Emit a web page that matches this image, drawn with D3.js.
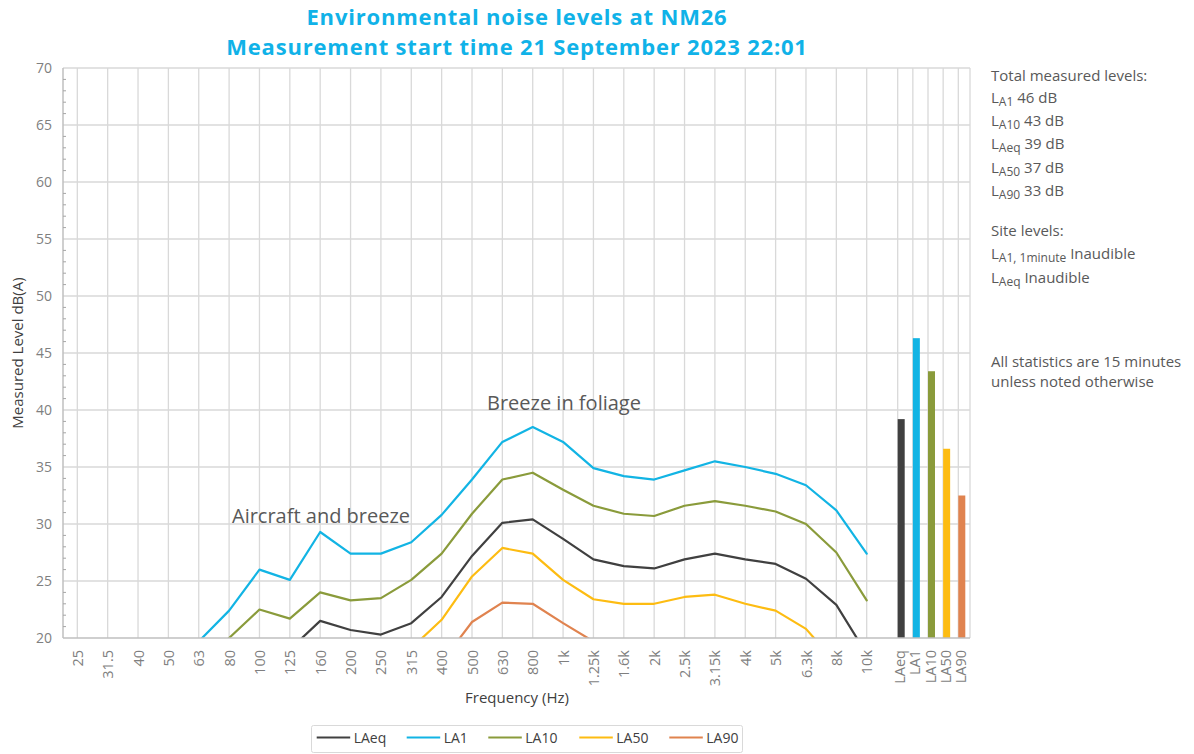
<!DOCTYPE html>
<html>
<head>
<meta charset="utf-8">
<script src="https://cdn.jsdelivr.net/npm/d3@7"></script>
<style>
  html, body { margin: 0; padding: 0; background: #fff; }
  svg { display: block; font-family: "Open Sans", "Noto Sans", sans-serif; }
</style>
</head>
<body>
<svg id="chart" width="1194" height="754"></svg>
<script>
// ---------- data ----------
const freqLabels = ["25","31.5","40","50","63","80","100","125","160","200","250","315","400","500","630","800","1k","1.25k","1.6k","2k","2.5k","3.15k","4k","5k","6.3k","8k","10k"];
const LAeq = [null,null,null,null,null,null,null,19.0,21.5,20.7,20.3,21.3,23.6,27.2,30.1,30.4,28.7,26.9,26.3,26.1,26.9,27.4,26.9,26.5,25.2,22.9,18.6];
const LA1  = [null,null,null,null,19.7,22.4,26.0,25.1,29.3,27.4,27.4,28.4,30.8,33.9,37.2,38.5,37.2,34.9,34.2,33.9,34.7,35.5,35.0,34.4,33.4,31.2,27.4];
const LA10 = [null,null,null,null,17.5,20.0,22.5,21.7,24.0,23.3,23.5,25.1,27.4,30.9,33.9,34.5,33.0,31.6,30.9,30.7,31.6,32.0,31.6,31.1,30.0,27.5,23.3];
const LA50 = [null,null,null,null,null,null,null,null,null,null,null,19.1,21.6,25.4,27.9,27.4,25.1,23.4,23.0,23.0,23.6,23.8,23.0,22.4,20.8,17.8,null];
const LA90 = [null,null,null,null,null,null,null,null,null,null,null,null,17.9,21.4,23.1,23.0,21.3,19.7,null,null,null,null,null,null,null,null,null];
const seriesNames = ["LAeq","LA1","LA10","LA50","LA90"];
const seriesColors = ["#404040","#12B4E4","#8A9B3B","#FDBC12","#E0834F"];
const barLabels = ["LAeq","LA1","LA10","LA50","LA90"];
const barValues = [39.2,46.3,43.4,36.6,32.5];
const yTicks = [20,25,30,35,40,45,50,55,60,65,70];
const titleLines = ["Environmental noise levels at NM26","Measurement start time 21 September 2023 22:01"];

// ---------- layout ----------
const svg = d3.select("#chart");
const L = 63, R = 970, T = 68, B = 638;
const x = d3.scalePoint().domain(freqLabels).range([77.3, 866.7]);
const xb = d3.scalePoint().domain(barLabels).range([897.7, 958.3]);
const y = d3.scaleLinear().domain([20, 70]).range([B, T]);
const gridColor = "#d9d9d9";
const axisColor = "#bfbfbf";
const tickTextColor = "#7f7f7f";
const textColor = "#404040";

// title
svg.append("g").selectAll("text").data(titleLines).join("text")
  .attr("x", 517).attr("y", (d, i) => 24.5 + i * 30.5)
  .attr("text-anchor", "middle")
  .attr("font-size", 22).attr("font-weight", "bold")
  .attr("letter-spacing", 0.8)
  .attr("fill", "#10B2E8")
  .text(d => d);

// gridlines
const grid = svg.append("g");
grid.selectAll("line.h").data(yTicks.filter(v => v > 20)).join("line")
  .attr("x1", L).attr("x2", R).attr("y1", d => y(d)).attr("y2", d => y(d))
  .attr("stroke", gridColor).attr("stroke-width", 1.3);
grid.selectAll("line.v").data(freqLabels).join("line")
  .attr("x1", d => x(d)).attr("x2", d => x(d)).attr("y1", T).attr("y2", B)
  .attr("stroke", gridColor).attr("stroke-width", 1.3);
grid.selectAll("line.vb").data(barLabels).join("line")
  .attr("x1", d => xb(d)).attr("x2", d => xb(d)).attr("y1", T).attr("y2", B)
  .attr("stroke", gridColor).attr("stroke-width", 1.3);
grid.append("line").attr("x1", R).attr("x2", R).attr("y1", T).attr("y2", B)
  .attr("stroke", gridColor).attr("stroke-width", 1.3);

// bars
svg.append("g").selectAll("rect").data(barLabels).join("rect")
  .attr("x", d => xb(d)).attr("width", 7)
  .attr("y", (d, i) => y(barValues[i]))
  .attr("height", (d, i) => y(20) - y(barValues[i]))
  .attr("fill", (d, i) => seriesColors[i]);

// clip for lines
svg.append("clipPath").attr("id", "plotclip").append("rect")
  .attr("x", L).attr("y", T).attr("width", R - L).attr("height", B - T);

const allSeries = [LAeq, LA1, LA10, LA50, LA90];
const line = d3.line()
  .defined(d => d.v !== null)
  .x(d => x(d.k)).y(d => y(d.v));
const lineG = svg.append("g").attr("clip-path", "url(#plotclip)");
[4,3,2,0,1].forEach(si => {
  const data = freqLabels.map((k, i) => ({ k, v: allSeries[si][i] }));
  lineG.append("path").datum(data)
    .attr("d", line)
    .attr("fill", "none")
    .attr("stroke", seriesColors[si])
    .attr("stroke-width", 2.2)
    .attr("stroke-linejoin", "round")
    .attr("stroke-linecap", "round");
});

// axes lines
svg.append("line").attr("x1", L).attr("x2", L).attr("y1", T).attr("y2", B)
  .attr("stroke", axisColor).attr("stroke-width", 1.5);
svg.append("line").attr("x1", L).attr("x2", R).attr("y1", B).attr("y2", B)
  .attr("stroke", axisColor).attr("stroke-width", 1.5);
// minor ticks
svg.append("g").selectAll("line").data(d3.range(21, 70).filter(v => v % 5 !== 0)).join("line")
  .attr("x1", L).attr("x2", L + 3).attr("y1", d => y(d)).attr("y2", d => y(d))
  .attr("stroke", "#a6a6a6").attr("stroke-width", 1);

// y axis labels
const yAxis = svg.append("g").attr("transform", `translate(${L},0)`)
  .call(d3.axisLeft(y).tickValues(yTicks).tickSize(0).tickPadding(11));
yAxis.select(".domain").remove();
yAxis.selectAll("text").attr("font-size", 14).attr("fill", tickTextColor)
  .attr("font-family", "Open Sans");

// x axis labels
const xAxis = svg.append("g").attr("transform", `translate(0,${B})`)
  .call(d3.axisBottom(x).tickSize(0));
xAxis.select(".domain").remove();
xAxis.selectAll("text")
  .attr("transform", "rotate(-90)").attr("text-anchor", "end")
  .attr("x", -12).attr("y", 0).attr("dy", "0.35em")
  .attr("font-size", 14.5).attr("fill", tickTextColor).attr("font-family", "Open Sans");

const xbAxis = svg.append("g").attr("transform", `translate(2,${B})`)
  .call(d3.axisBottom(xb).tickSize(0));
xbAxis.select(".domain").remove();
xbAxis.selectAll("text")
  .attr("transform", "rotate(-90)").attr("text-anchor", "end")
  .attr("x", -12).attr("y", 0).attr("dy", "0.35em")
  .attr("font-size", 14.5).attr("fill", tickTextColor).attr("font-family", "Open Sans");

// axis titles
svg.append("text").attr("transform", "translate(23,353) rotate(-90)")
  .attr("text-anchor", "middle").attr("font-size", 15).attr("fill", textColor)
  .text("Measured Level dB(A)");
svg.append("text").attr("x", 517).attr("y", 703)
  .attr("text-anchor", "middle").attr("font-size", 15).attr("fill", textColor)
  .text("Frequency (Hz)");

// annotations
svg.append("text").attr("x", 232).attr("y", 523).attr("font-size", 20).attr("fill", "#595959")
  .text("Aircraft and breeze");
svg.append("text").attr("x", 487).attr("y", 410).attr("font-size", 20).attr("fill", "#595959")
  .text("Breeze in foliage");

// right panel text
const panel = svg.append("g").attr("font-size", 15).attr("fill", "#595959");
function subLine(yy, sub, rest) {
  const t = panel.append("text").attr("x", 991).attr("y", yy);
  t.append("tspan").text("L");
  t.append("tspan").attr("font-size", 12).attr("dy", 3).text(sub);
  t.append("tspan").attr("dy", -3).text(" " + rest);
}
panel.append("text").attr("x", 991).attr("y", 81).text("Total measured levels:");
subLine(103, "A1", "46 dB");
subLine(126, "A10", "43 dB");
subLine(149, "Aeq", "39 dB");
subLine(173, "A50", "37 dB");
subLine(196, "A90", "33 dB");
panel.append("text").attr("x", 991).attr("y", 236).text("Site levels:");
subLine(259, "A1, 1minute", "Inaudible");
subLine(283, "Aeq", "Inaudible");
panel.append("text").attr("x", 991).attr("y", 367).text("All statistics are 15 minutes");
panel.append("text").attr("x", 991).attr("y", 387).text("unless noted otherwise");

// legend
const lg = svg.append("g");
lg.append("rect").attr("x", 311.5).attr("y", 725.5).attr("width", 431).attr("height", 27)
  .attr("rx", 2).attr("fill", "#fff").attr("stroke", "#d9d9d9").attr("stroke-width", 1);
const legendX = [316.7, 406.7, 488.3, 579.3, 669.3];
seriesNames.forEach((n, i) => {
  lg.append("line").attr("x1", legendX[i]).attr("x2", legendX[i] + 33.5)
    .attr("y1", 737.5).attr("y2", 737.5)
    .attr("stroke", seriesColors[i]).attr("stroke-width", 2.2);
  lg.append("text").attr("x", legendX[i] + 37).attr("y", 742.5)
    .attr("font-size", 14).attr("fill", textColor).text(n);
});
</script>
</body>
</html>
